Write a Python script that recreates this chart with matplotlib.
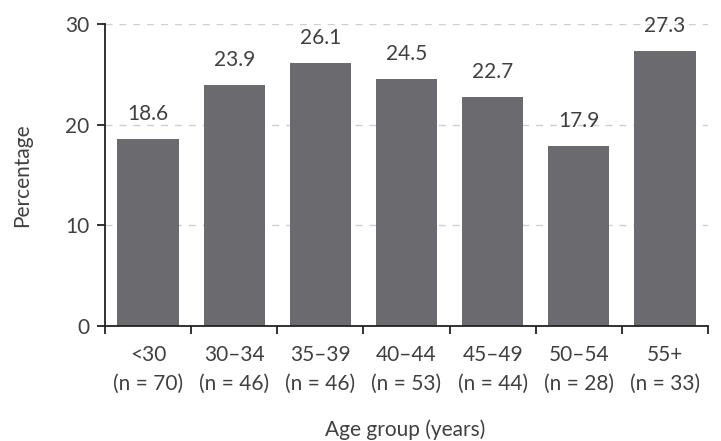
import matplotlib
matplotlib.use("Agg")
import matplotlib.pyplot as plt

groups = ["<30", "30\u201334", "35\u201339", "40\u201344", "45\u201349", "50\u201354", "55+"]
counts = [70, 46, 46, 53, 44, 28, 33]
pct = [18.6, 23.9, 26.1, 24.5, 22.7, 17.9, 27.3]

plt.rcParams["font.family"] = ["Lato", "DejaVu Sans"]
plt.rcParams["font.weight"] = "normal"
TXT = "#404040"
FS = 15

fig = plt.figure(figsize=(7.21, 4.41), dpi=100)
ax = fig.add_axes([0.1456, 0.2608, 0.982 - 0.1456, 0.9456 - 0.2608])

x = list(range(len(groups)))
ax.bar(x, pct, width=0.71, color="#6b6b6f", zorder=2)
for xi, v in zip(x, pct):
    ax.text(xi, v + 1.5, f"{v:.1f}", ha="center", va="bottom",
            fontsize=FS, color=TXT)

ax.set_xlim(-0.5, len(groups) - 0.5)
ax.set_ylim(0, 30)
ax.set_yticks([0, 10, 20, 30])
ax.yaxis.grid(True, ls=(0, (5, 5)), color="#cfcfcf", lw=1, zorder=0)

# category labels sit between boundary ticks
ax.set_xticks([i - 0.5 for i in range(len(groups) + 1)])
ax.set_xticklabels([])
ax.set_xticks(x, minor=True)
ax.set_xticklabels([f"{g}\n(n = {n})" for g, n in zip(groups, counts)],
                   minor=True, fontsize=FS, color=TXT, linespacing=1.5)
ax.tick_params(axis="x", which="minor", length=0, pad=14)
ax.tick_params(axis="x", which="major", length=6, width=1.3, color="#222222")
ax.tick_params(axis="y", length=6, width=1.3, color="#222222",
               labelsize=FS, labelcolor=TXT, pad=5)

for s in ["top", "right"]:
    ax.spines[s].set_visible(False)
for s in ["left", "bottom"]:
    ax.spines[s].set_linewidth(1.3)
    ax.spines[s].set_color("#222222")

ax.set_ylabel("Percentage", fontsize=FS, color=TXT, labelpad=24)
fig.text(0.5615, 0.012, "Age group (years)", ha="center", fontsize=FS, color=TXT)

fig.savefig("out.png", dpi=100)
